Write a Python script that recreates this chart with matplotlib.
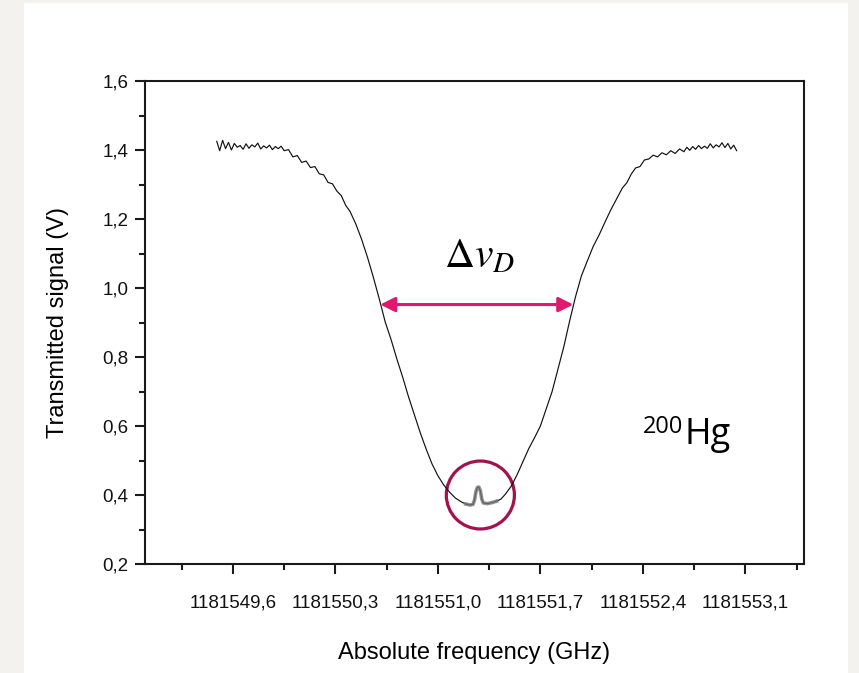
"""
Doppler broadened transmission dip of 200Hg, redrawn with matplotlib.
"""
import matplotlib
matplotlib.use("Agg")
from matplotlib import pyplot as plt
from matplotlib.patches import Ellipse, Rectangle
from matplotlib.ticker import FuncFormatter, MultipleLocator

# frequency (GHz) and transmitted signal (V)
freq = [
    1181549.49, 1181549.51, 1181549.53, 1181549.55, 1181549.57, 1181549.59,
    1181549.61, 1181549.63, 1181549.65, 1181549.67, 1181549.69, 1181549.71,
    1181549.73, 1181549.75, 1181549.77, 1181549.79, 1181549.81, 1181549.83,
    1181549.85, 1181549.87, 1181549.89, 1181549.91, 1181549.93, 1181549.95,
    1181549.98, 1181550.01, 1181550.04, 1181550.07, 1181550.10, 1181550.13,
    1181550.16, 1181550.19, 1181550.22, 1181550.25, 1181550.28, 1181550.31,
    1181550.34, 1181550.37, 1181550.40,
    1181550.44, 1181550.48, 1181550.52, 1181550.56, 1181550.60, 1181550.64,
    1181550.68, 1181550.72, 1181550.76, 1181550.80, 1181550.84, 1181550.88,
    1181550.92, 1181550.96, 1181551.00, 1181551.04, 1181551.08, 1181551.12,
    1181551.16, 1181551.19, 1181551.22, 1181551.24, 1181551.25, 1181551.26,
    1181551.27, 1181551.28, 1181551.29, 1181551.30, 1181551.31, 1181551.34,
    1181551.37, 1181551.40, 1181551.43, 1181551.46, 1181551.50, 1181551.54,
    1181551.58, 1181551.62, 1181551.66, 1181551.70, 1181551.74, 1181551.78,
    1181551.82, 1181551.86, 1181551.90, 1181551.94, 1181551.98, 1181552.02,
    1181552.06, 1181552.10, 1181552.14, 1181552.18, 1181552.22, 1181552.26,
    1181552.29, 1181552.32, 1181552.35, 1181552.38, 1181552.41, 1181552.44,
    1181552.47, 1181552.50, 1181552.53, 1181552.56, 1181552.59, 1181552.62,
    1181552.65, 1181552.68,
    1181552.70, 1181552.72, 1181552.74, 1181552.76, 1181552.78, 1181552.80,
    1181552.82, 1181552.84, 1181552.86, 1181552.88, 1181552.90, 1181552.92,
    1181552.94, 1181552.96, 1181552.98, 1181553.00, 1181553.02, 1181553.04,
]
signal = [
    1.425, 1.398, 1.428, 1.404, 1.422, 1.400,
    1.419, 1.408, 1.413, 1.402, 1.418, 1.405,
    1.415, 1.409, 1.420, 1.403, 1.412, 1.406,
    1.414, 1.401, 1.410, 1.404, 1.411, 1.398,
    1.401, 1.380, 1.384, 1.364, 1.368, 1.349,
    1.352, 1.331, 1.328, 1.306, 1.302, 1.281,
    1.268, 1.240, 1.222,
    1.185, 1.140, 1.088, 1.030, 0.968, 0.902,
    0.851, 0.794, 0.741, 0.684, 0.632, 0.580,
    0.533, 0.490, 0.456, 0.429, 0.408, 0.391,
    0.380, 0.374, 0.371, 0.373, 0.385, 0.410,
    0.422, 0.423, 0.412, 0.388, 0.377, 0.375,
    0.378, 0.382, 0.388, 0.402, 0.425, 0.458,
    0.496, 0.534, 0.566, 0.600, 0.650, 0.700,
    0.765, 0.830, 0.905, 0.975, 1.035, 1.078,
    1.120, 1.153, 1.190, 1.226, 1.258, 1.290,
    1.305, 1.330, 1.348, 1.352, 1.371, 1.374,
    1.385, 1.380, 1.392, 1.386, 1.398, 1.390,
    1.403, 1.395,
    1.408, 1.399, 1.410, 1.402, 1.413, 1.404,
    1.411, 1.405, 1.418, 1.406, 1.415, 1.409,
    1.421, 1.407, 1.419, 1.403, 1.414, 1.398,
]

# the Doppler width arrow and the circled Lamb dip
width_left = 1181550.606
width_right = 1181551.925
width_level = 0.952
dip_center = (1181551.29, 0.40)

x_major = [1181549.6, 1181550.3, 1181551.0, 1181551.7, 1181552.4, 1181553.1]
x_minor = [1181549.25, 1181549.95, 1181550.65, 1181551.35, 1181552.05,
           1181552.75, 1181553.45]

plt.rcParams['font.family'] = ['Liberation Sans', 'DejaVu Sans']

fig = plt.figure(figsize=(8.59, 6.73), dpi=100)
fig.patch.set_facecolor('#f3f2ee')
# white card on the beige page, kept behind the axes
card = Rectangle((24 / 859, 0), 824 / 859, 670 / 673,
                 transform=fig.transFigure, facecolor='white',
                 edgecolor='none', zorder=-10)
fig.patches.append(card)

ax = fig.add_axes([145 / 859, 109 / 673, 659 / 859, 483 / 673])
ax.set_facecolor('white')

ax.plot(freq, signal, color='#111111', lw=0.85)
# the dip inside the circle looks blurred / thicker in the original
dip_f = [f for f in freq if 1181551.17 <= f <= 1181551.42]
dip_s = [s for f, s in zip(freq, signal) if 1181551.17 <= f <= 1181551.42]
ax.plot(dip_f, dip_s, color='#777777', lw=2.6, alpha=0.8)

ax.annotate('', xy=(width_left, width_level), xytext=(width_right, width_level),
            arrowprops=dict(arrowstyle='<|-|>', color='#e2176e', lw=2.2,
                            mutation_scale=22, shrinkA=0, shrinkB=0))
ax.text(1181551.04, 1.061, r'$\Delta v_D$', fontsize=30,
        math_fontfamily='stix', ha='left', va='baseline')

ax.add_patch(Ellipse(dip_center, 0.465, 0.197, fill=False,
                     edgecolor='#a3124f', lw=2.3))

ax.text(1181552.677, 0.580, '200', fontsize=17, family=['Open Sans'],
        ha='right', va='baseline')
ax.text(1181552.685, 0.547, 'Hg', fontsize=26, family=['Open Sans'],
        ha='left', va='baseline')

ax.set_xlim(1181549.0, 1181553.5)
ax.set_ylim(0.2, 1.6)
ax.set_xticks(x_major)
ax.set_xticks(x_minor, minor=True)
ax.yaxis.set_major_locator(MultipleLocator(0.2))
ax.yaxis.set_minor_locator(MultipleLocator(0.1))

comma = FuncFormatter(lambda v, pos: f"{v:.1f}".replace('.', ','))
ax.xaxis.set_major_formatter(comma)
ax.yaxis.set_major_formatter(comma)

for side in ['top', 'right', 'bottom', 'left']:
    ax.spines[side].set_linewidth(1.5)
    ax.spines[side].set_color('#1a1a1a')

ax.tick_params(which='major', length=7, width=1.5, color='#1a1a1a',
               labelsize=13.5, labelcolor='#111111')
ax.tick_params(which='minor', length=4, width=1.5, color='#1a1a1a')
ax.tick_params(axis='x', which='major', pad=15)
ax.tick_params(axis='y', which='major', pad=5)

ax.set_xlabel('Absolute frequency (GHz)', fontsize=17, labelpad=22)
ax.set_ylabel('Transmitted signal (V)', fontsize=17, labelpad=24)

fig.savefig('out.png', dpi=100, facecolor=fig.get_facecolor())
